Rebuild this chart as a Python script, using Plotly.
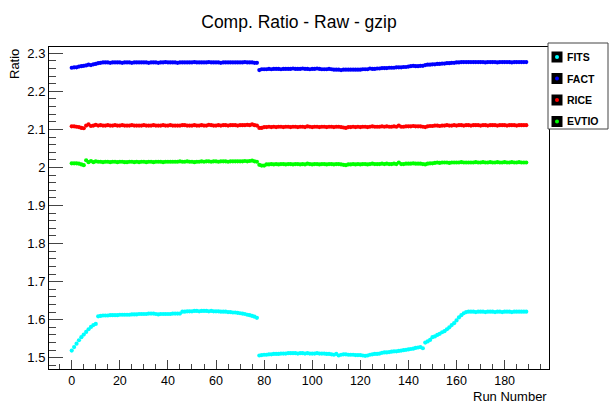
import plotly.graph_objects as go

runs = list(range(0, 190))

fits = [
    1.519, 1.528, 1.537, 1.546, 1.554, 1.561, 1.568, 1.575, 1.581, 1.586,
    1.589, 1.609, 1.610, 1.611, 1.611, 1.611, 1.612, 1.612, 1.612, 1.612,
    1.613, 1.613, 1.613, 1.613, 1.613, 1.614, 1.614, 1.614, 1.615, 1.615,
    1.615, 1.615, 1.616, 1.616, 1.616, 1.615, 1.614, 1.615, 1.615, 1.615,
    1.615, 1.615, 1.616, 1.616, 1.616, 1.616, 1.621, 1.621, 1.622, 1.622,
    1.622, 1.623, 1.623, 1.622, 1.623, 1.623, 1.623, 1.622, 1.623, 1.622,
    1.622, 1.622, 1.621, 1.621, 1.621, 1.620, 1.620, 1.619, 1.619, 1.618,
    1.617, 1.616, 1.615, 1.613, 1.612, 1.610, 1.608, 1.605, 1.506, 1.507,
    1.508, 1.508, 1.509, 1.509, 1.510, 1.510, 1.510, 1.511, 1.511, 1.511,
    1.512, 1.512, 1.512, 1.512, 1.511, 1.512, 1.512, 1.511, 1.512, 1.511,
    1.511, 1.511, 1.512, 1.511, 1.511, 1.511, 1.510, 1.510, 1.509, 1.508,
    1.510, 1.506, 1.508, 1.509, 1.509, 1.508, 1.508, 1.508, 1.507, 1.507,
    1.507, 1.506, 1.505, 1.506, 1.508, 1.509, 1.510, 1.510, 1.511, 1.513,
    1.514, 1.514, 1.515, 1.516, 1.517, 1.517, 1.518, 1.519, 1.520, 1.521,
    1.522, 1.523, 1.524, 1.526, 1.527, 1.528, 1.525, 1.540, 1.543, 1.547,
    1.554, 1.556, 1.560, 1.563, 1.567, 1.570, 1.575, 1.580, 1.586, 1.591,
    1.598, 1.606, 1.612, 1.617, 1.620, 1.621, 1.621, 1.621, 1.620, 1.621,
    1.621, 1.621, 1.620, 1.621, 1.621, 1.621, 1.620, 1.621, 1.621, 1.620,
    1.621, 1.621, 1.621, 1.620, 1.621, 1.621, 1.621, 1.621, 1.621, 1.621,
]

fact = [
    2.262, 2.263, 2.263, 2.265, 2.266, 2.267, 2.268, 2.270, 2.269, 2.271,
    2.272, 2.274, 2.275, 2.276, 2.276, 2.276, 2.275, 2.276, 2.276, 2.276,
    2.276, 2.275, 2.276, 2.276, 2.276, 2.275, 2.276, 2.276, 2.276, 2.276,
    2.276, 2.276, 2.275, 2.276, 2.276, 2.276, 2.275, 2.276, 2.276, 2.277,
    2.276, 2.276, 2.276, 2.276, 2.275, 2.276, 2.276, 2.276, 2.276, 2.276,
    2.276, 2.277, 2.276, 2.276, 2.276, 2.276, 2.276, 2.277, 2.276, 2.276,
    2.276, 2.276, 2.275, 2.276, 2.276, 2.276, 2.276, 2.276, 2.276, 2.276,
    2.276, 2.276, 2.277, 2.276, 2.276, 2.276, 2.275, 2.275, 2.256, 2.258,
    2.258, 2.258, 2.259, 2.258, 2.259, 2.259, 2.259, 2.258, 2.259, 2.259,
    2.259, 2.259, 2.260, 2.259, 2.259, 2.259, 2.260, 2.259, 2.259, 2.258,
    2.259, 2.259, 2.260, 2.259, 2.258, 2.258, 2.258, 2.259, 2.258, 2.257,
    2.257, 2.257, 2.256, 2.257, 2.257, 2.257, 2.257, 2.257, 2.257, 2.257,
    2.257, 2.258, 2.258, 2.258, 2.260, 2.259, 2.259, 2.260, 2.260, 2.261,
    2.261, 2.261, 2.262, 2.262, 2.262, 2.263, 2.263, 2.263, 2.264, 2.264,
    2.265, 2.266, 2.267, 2.266, 2.266, 2.267, 2.267, 2.269, 2.270, 2.270,
    2.271, 2.271, 2.272, 2.272, 2.273, 2.273, 2.274, 2.274, 2.275, 2.275,
    2.276, 2.276, 2.277, 2.277, 2.277, 2.277, 2.277, 2.277, 2.277, 2.277,
    2.277, 2.277, 2.276, 2.277, 2.277, 2.277, 2.277, 2.276, 2.277, 2.277,
    2.277, 2.277, 2.277, 2.276, 2.277, 2.277, 2.277, 2.277, 2.277, 2.277,
]

rice = [
    2.108, 2.108, 2.107, 2.106, 2.104, 2.103, 2.110, 2.113, 2.109, 2.110,
    2.112, 2.110, 2.111, 2.110, 2.110, 2.111, 2.110, 2.110, 2.111, 2.110,
    2.110, 2.111, 2.110, 2.110, 2.110, 2.111, 2.110, 2.110, 2.110, 2.110,
    2.111, 2.110, 2.110, 2.110, 2.111, 2.110, 2.110, 2.110, 2.111, 2.110,
    2.110, 2.111, 2.110, 2.110, 2.110, 2.110, 2.111, 2.111, 2.110, 2.110,
    2.110, 2.111, 2.110, 2.110, 2.111, 2.110, 2.110, 2.112, 2.111, 2.110,
    2.110, 2.111, 2.110, 2.111, 2.111, 2.110, 2.111, 2.111, 2.111, 2.110,
    2.111, 2.111, 2.111, 2.112, 2.111, 2.113, 2.111, 2.110, 2.104, 2.104,
    2.106, 2.106, 2.107, 2.106, 2.107, 2.106, 2.107, 2.107, 2.106, 2.107,
    2.107, 2.106, 2.107, 2.107, 2.106, 2.107, 2.107, 2.106, 2.108, 2.107,
    2.106, 2.107, 2.107, 2.106, 2.107, 2.107, 2.106, 2.107, 2.107, 2.106,
    2.107, 2.107, 2.106, 2.105, 2.104, 2.106, 2.106, 2.107, 2.106, 2.107,
    2.106, 2.107, 2.107, 2.106, 2.107, 2.108, 2.107, 2.107, 2.107, 2.108,
    2.107, 2.108, 2.107, 2.107, 2.108, 2.107, 2.110, 2.107, 2.107, 2.108,
    2.108, 2.108, 2.109, 2.108, 2.108, 2.108, 2.107, 2.106, 2.108, 2.109,
    2.109, 2.110, 2.110, 2.109, 2.110, 2.110, 2.111, 2.110, 2.110, 2.111,
    2.110, 2.111, 2.111, 2.110, 2.111, 2.111, 2.110, 2.111, 2.111, 2.111,
    2.110, 2.111, 2.111, 2.110, 2.111, 2.111, 2.111, 2.110, 2.111, 2.111,
    2.111, 2.110, 2.111, 2.111, 2.111, 2.110, 2.111, 2.111, 2.111, 2.111,
]

evtio = [
    2.011, 2.011, 2.011, 2.010, 2.008, 2.006, 2.019, 2.014, 2.017, 2.014,
    2.016, 2.015, 2.015, 2.014, 2.015, 2.015, 2.014, 2.015, 2.015, 2.014,
    2.015, 2.015, 2.014, 2.014, 2.015, 2.015, 2.014, 2.015, 2.014, 2.015,
    2.015, 2.014, 2.015, 2.015, 2.014, 2.015, 2.015, 2.015, 2.014, 2.015,
    2.015, 2.015, 2.015, 2.015, 2.015, 2.016, 2.015, 2.015, 2.016, 2.015,
    2.015, 2.014, 2.015, 2.015, 2.016, 2.015, 2.016, 2.016, 2.015, 2.016,
    2.016, 2.015, 2.016, 2.016, 2.016, 2.015, 2.016, 2.016, 2.016, 2.016,
    2.016, 2.016, 2.017, 2.016, 2.017, 2.018, 2.016, 2.015, 2.007, 2.005,
    2.005, 2.008, 2.008, 2.009, 2.008, 2.009, 2.008, 2.009, 2.009, 2.008,
    2.009, 2.009, 2.008, 2.009, 2.009, 2.008, 2.009, 2.008, 2.010, 2.009,
    2.008, 2.009, 2.009, 2.008, 2.009, 2.009, 2.008, 2.009, 2.009, 2.008,
    2.009, 2.009, 2.008, 2.007, 2.006, 2.008, 2.008, 2.009, 2.008, 2.009,
    2.008, 2.009, 2.009, 2.008, 2.009, 2.010, 2.009, 2.009, 2.009, 2.010,
    2.009, 2.010, 2.009, 2.009, 2.010, 2.009, 2.013, 2.009, 2.009, 2.010,
    2.010, 2.010, 2.011, 2.010, 2.010, 2.010, 2.009, 2.008, 2.010, 2.011,
    2.011, 2.012, 2.013, 2.012, 2.013, 2.013, 2.013, 2.012, 2.013, 2.013,
    2.013, 2.013, 2.014, 2.013, 2.013, 2.013, 2.013, 2.013, 2.014, 2.013,
    2.013, 2.014, 2.013, 2.013, 2.014, 2.013, 2.013, 2.014, 2.013, 2.013,
    2.014, 2.013, 2.013, 2.014, 2.013, 2.013, 2.014, 2.013, 2.013, 2.013,
]

series_names = ["FITS", "FACT", "RICE", "EVTIO"]
series_values = [fits, fact, rice, evtio]
series_colors = ["#00FFFF", "#0000FF", "#FF0000", "#00FF00"]

FONT = "Liberation Sans, Arial, Helvetica, sans-serif"

fig = go.Figure()
for name, vals, col in zip(series_names, series_values, series_colors):
    fig.add_trace(go.Scatter(
        x=runs, y=vals, mode="markers", name=name,
        marker=dict(symbol="circle", size=4.2, color=col, line=dict(width=0)),
        showlegend=False,
    ))

W, H = 609, 405
ML, MR, MT, MB = 49, 60, 47, 36
pw, ph = W - ML - MR, H - MT - MB

def px_to_paper(px, py):
    return (px - ML) / pw, (H - MB - py) / ph

shapes = []
annotations = []

# Legend box
x0, y0 = px_to_paper(548, 43)
x1, y1 = px_to_paper(608, 129)
shapes.append(dict(type="rect", xref="paper", yref="paper", x0=x0, x1=x1, y0=y1, y1=y0,
                   line=dict(color="#444", width=1), fillcolor="white", layer="above"))
for i, (name, col) in enumerate(zip(series_names, series_colors)):
    cy = 57 + i * 21.5
    ax0, ay0 = px_to_paper(551.5, cy - 5.5)
    ax1, ay1 = px_to_paper(562.5, cy + 5.5)
    shapes.append(dict(type="rect", xref="paper", yref="paper", x0=ax0, x1=ax1, y0=ay1, y1=ay0,
                       line=dict(width=0), fillcolor="black", layer="above"))
    bx0, by0 = px_to_paper(555, cy - 2)
    bx1, by1 = px_to_paper(559, cy + 2)
    shapes.append(dict(type="circle", xref="paper", yref="paper", x0=bx0, x1=bx1, y0=by1, y1=by0,
                       line=dict(width=0), fillcolor=col, layer="above"))
    tx, ty = px_to_paper(565, cy)
    annotations.append(dict(text="<b>%s</b>" % name, xref="paper", yref="paper", x=tx, y=ty,
                            xanchor="left", yanchor="middle", showarrow=False,
                            font=dict(family=FONT, size=10.5, color="black")))

# Axis titles
annotations.append(dict(text="Ratio", xref="paper", yref="paper", x=px_to_paper(14, 0)[0], y=1,
                        xanchor="center", yanchor="top", textangle=-90, showarrow=False,
                        font=dict(family=FONT, size=13, color="black")))
annotations.append(dict(text="Run Number", xref="paper", yref="paper", x=1, y=px_to_paper(0, 396)[1],
                        xanchor="right", yanchor="middle", showarrow=False,
                        font=dict(family=FONT, size=13, color="black")))

fig.update_layout(
    width=W, height=H,
    margin=dict(l=ML, r=MR, t=MT, b=MB, pad=0),
    paper_bgcolor="white", plot_bgcolor="white",
    font=dict(family=FONT, size=13, color="black"),
    title=dict(text="Comp. Ratio - Raw - gzip", x=0.5, xref="paper", xanchor="center",
               y=1 - 22 / H, yanchor="middle", font=dict(family=FONT, size=17.5, color="black")),
    shapes=shapes, annotations=annotations,
    showlegend=False,
)
fig.update_xaxes(
    range=[-9.45, 198.45], showgrid=False, zeroline=False,
    showline=True, linecolor="black", linewidth=1, mirror=True,
    ticks="inside", ticklen=9, tickcolor="#444", tickwidth=1,
    tick0=0, dtick=20, tickfont=dict(family=FONT, size=12.5), ticklabelstandoff=0,
    minor=dict(ticks="inside", ticklen=5, dtick=5, tick0=0, tickcolor="#444", showgrid=False),
)
fig.update_yaxes(
    range=[1.4705, 2.3165], showgrid=False, zeroline=False,
    showline=True, linecolor="black", linewidth=1, mirror=True,
    ticks="inside", ticklen=14, tickcolor="#444", tickwidth=1,
    tick0=1.5, dtick=0.1, tickfont=dict(family=FONT, size=13),
    minor=dict(ticks="inside", ticklen=7, dtick=0.02, tick0=1.5, tickcolor="#444", showgrid=False),
)

fig.write_html("out.html")
